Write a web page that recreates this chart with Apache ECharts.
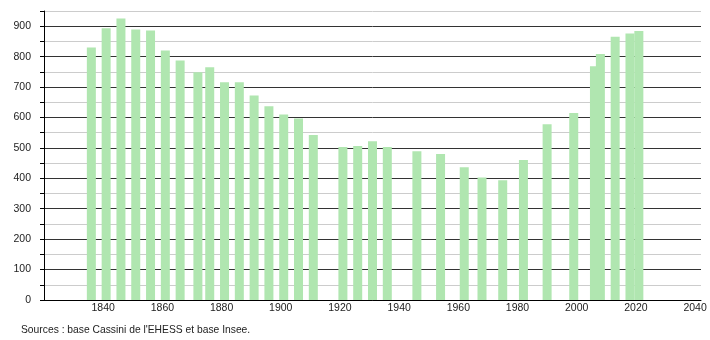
<!DOCTYPE html>
<html>
<head>
<meta charset="utf-8">
<script src="https://cdn.jsdelivr.net/npm/echarts@6/dist/echarts.min.js"></script>
<style>
html,body{margin:0;padding:0;background:#fff;}
#chart{width:710px;height:340px;}
</style>
</head>
<body>
<div id="chart"></div>
<script>
const years = [1836, 1841, 1846, 1851, 1856, 1861, 1866, 1872, 1876, 1881, 1886, 1891, 1896, 1901, 1906, 1911, 1921, 1926, 1931, 1936, 1946, 1954, 1962, 1968, 1975, 1982, 1990, 1999, 2006, 2008, 2013, 2018, 2021];
const population = [830, 893, 925, 889, 886, 820, 787, 749, 765, 716, 716, 672, 637, 610, 597, 542, 503, 506, 522, 503, 489, 480, 436, 403, 394, 460, 578, 615, 768, 809, 865, 876, 884];
const xTickLabels = [1840, 1860, 1880, 1900, 1920, 1940, 1960, 1980, 2000, 2020, 2040];
const yTickLabels = [0, 100, 200, 300, 400, 500, 600, 700, 800, 900];
const sourceText = "Sources : base Cassini de l'EHESS et base Insee.";

const chart = echarts.init(document.getElementById('chart'), null, {renderer: 'canvas'});
const font = 'Liberation Sans, Arial, sans-serif';
chart.setOption({
  animation: false,
  backgroundColor: '#ffffff',
  title: {
    text: sourceText,
    left: 16,
    top: 320,
    textStyle: {fontSize: 10.3, fontWeight: 'normal', color: '#222', fontFamily: font}
  },
  grid: {left: 44, right: 9, top: 11, bottom: 40, containLabel: false},
  xAxis: {
    type: 'value',
    min: 1820,
    max: 2042,
    interval: 20,
    axisLine: {show: true, lineStyle: {color: '#000', width: 1}},
    axisTick: {show: false},
    splitLine: {show: false},
    axisLabel: {
      margin: 3,
      fontSize: 10.5,
      color: '#222',
      fontFamily: font,
      showMinLabel: true,
      showMaxLabel: true,
      formatter: v => xTickLabels.indexOf(v) >= 0 ? String(v) : ''
    }
  },
  yAxis: {
    type: 'value',
    min: 0,
    max: 950,
    interval: 50,
    axisLine: {show: true, lineStyle: {color: '#000', width: 1}},
    axisTick: {show: true, length: 4, lineStyle: {color: '#000'}},
    splitLine: {show: true, lineStyle: {color: ['#333333', '#cccccc'], width: 1}},
    axisLabel: {
      margin: 13,
      fontSize: 10.5,
      color: '#222',
      fontFamily: font,
      formatter: v => yTickLabels.indexOf(v) >= 0 ? String(v) : ''
    }
  },
  series: [{
    type: 'bar',
    data: years.map((y, i) => [y, population[i]]),
    barWidth: 9,
    itemStyle: {color: '#b0e6b0'},
    silent: true
  }]
});
</script>
</body>
</html>
